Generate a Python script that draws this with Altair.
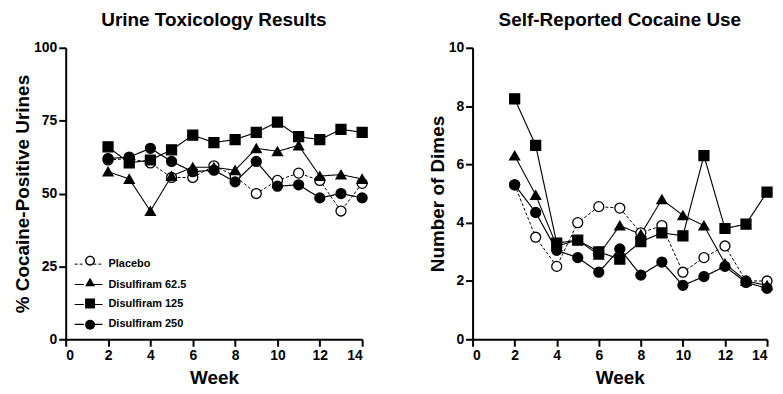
import altair as alt
import pandas as pd

weeks = list(range(2, 15))
series_names = ["Placebo", "Disulfiram 62.5", "Disulfiram 125", "Disulfiram 250"]

# Urine toxicology: % cocaine-positive urines
urine_placebo = [61.5, 62, 60.5, 55.5, 55.5, 59.5, 56, 50, 54.5, 57, 54.5, 44, 53.5]
urine_d62 = [57.5, 55, 44, 56, 59, 59, 58, 65.5, 64.5, 66.5, 56, 56.5, 55]
urine_d125 = [66, 60.5, 61.5, 65, 70, 67.5, 68.5, 71, 74.5, 69.5, 68.5, 72, 71]
urine_d250 = [62, 62.5, 65.5, 61, 57.5, 58, 54, 61, 52.5, 53, 48.5, 50, 48.5]

# Self-reported cocaine use: number of dimes
self_placebo = [5.3, 3.5, 2.5, 4.0, 4.55, 4.5, 3.65, 3.9, 2.3, 2.8, 3.2, 2.0, 2.0]
self_d62 = [6.3, 4.95, 3.2, 3.4, 2.9, 3.9, 3.6, 4.8, 4.25, 3.9, 2.6, 2.0, 1.85]
self_d125 = [8.25, 6.65, 3.3, 3.4, 3.0, 2.75, 3.35, 3.65, 3.55, 6.3, 3.8, 3.95, 5.05]
self_d250 = [5.3, 4.35, 3.05, 2.8, 2.3, 3.1, 2.2, 2.65, 1.85, 2.15, 2.5, 1.95, 1.75]

FONT = "Liberation Sans"
RING = ("M-1,0A1,1,0,1,0,1,0A1,1,0,1,0,-1,0Z "
        "M-0.72,0A0.72,0.72,0,1,1,0.72,0A0.72,0.72,0,1,1,-0.72,0Z")
GAP_LINE = "M-1,0L-0.34,0M0.34,0L1,0"


def make_df(lists):
    rows = []
    for idx, (name, vals) in enumerate(zip(series_names, lists)):
        for w, v in zip(weeks, vals):
            rows.append({"week": w, "value": v, "series": name, "idx": idx})
    return pd.DataFrame(rows)


df_urine = make_df([urine_placebo, urine_d62, urine_d125, urine_d250])
df_self = make_df([self_placebo, self_d62, self_d125, self_d250])


def panel(df, title, ytitle, ymax, yvals, width, show_legend):
    x = alt.X("week:Q", title="Week", scale=alt.Scale(domain=[0, 14], nice=False),
              axis=alt.Axis(values=list(range(0, 15, 2)), grid=False))
    y = alt.Y("value:Q", title=ytitle, scale=alt.Scale(domain=[0, ymax], nice=False),
              axis=alt.Axis(values=yvals, grid=False))
    if show_legend:
        legA = alt.Legend(orient="none", legendX=8, legendY=203, title=None,
                          symbolType=GAP_LINE, symbolSize=784, symbolStrokeColor="black",
                          labelFont=FONT, labelFontWeight="bold", labelFontSize=11,
                          labelColor="black", padding=0, rowPadding=-0.6, labelOffset=5)
    else:
        legA = None
    lines = alt.Chart(df).mark_line(color="black").encode(
        x=x, y=y,
        strokeDash=alt.StrokeDash("series:N", scale=alt.Scale(domain=series_names,
                                  range=[[3, 2], [1, 0], [1, 0], [1, 0]]), legend=legA),
        strokeWidth=alt.StrokeWidth("series:N", scale=alt.Scale(domain=series_names,
                                    range=[1, 1.2, 1.2, 2.6]), legend=legA),
        detail="series:N",
    )
    points = alt.Chart(df).mark_point(filled=True, stroke="black", strokeWidth=1.3, opacity=1, size=100).encode(
        x=x, y=y,
        shape=alt.Shape("idx:O", scale=alt.Scale(range=["circle", "triangle-up", "square", "circle"]), legend=None),
        fill=alt.Fill("idx:O", scale=alt.Scale(range=["white", "black", "black", "black"]), legend=None),
    )
    layers = [lines, points]
    if show_legend:
        legB = alt.Legend(orient="none", legendX=18.5, legendY=208, title=None,
                          symbolOpacity=1, symbolFillColor="black", symbolSize=100,
                          labelFont=FONT, labelFontSize=11,
                          labelOpacity=0, labelExpr="''",
                          padding=0, rowPadding=5.5, labelOffset=5)
        legend_marks = alt.Chart(df).mark_point(filled=True, color="black", opacity=0, size=100).encode(
            x=x, y=y,
            shape=alt.Shape("idx:O", scale=alt.Scale(range=[RING, "triangle-up", "square", "circle"]), legend=legB),
        )
        layers.append(legend_marks)
    return alt.layer(*layers).resolve_scale(shape="independent").properties(
        width=width, height=293,
        title=alt.TitleParams(title, font=FONT, fontSize=19, fontWeight="bold", offset=11, anchor="middle"),
    )


left = panel(df_urine, "Urine Toxicology Results", "% Cocaine-Positive Urines", 100,
             [0, 25, 50, 75, 100], 298, True)
right = panel(df_self, "Self-Reported Cocaine Use", "Number of Dimes", 10,
              [0, 2, 4, 6, 8, 10], 296, False)

chart = alt.hconcat(left, right, spacing=58).resolve_scale(
    shape="independent", fill="independent", strokeDash="independent", strokeWidth="independent"
).resolve_legend(
    shape="independent", fill="independent", strokeDash="independent", strokeWidth="independent"
).properties(
    padding={"left": 5, "right": 0, "top": 2, "bottom": 0}
).configure_view(stroke=None).configure_axis(
    domainColor="black", domainWidth=2, tickColor="black", tickWidth=2, tickSize=7,
    labelFont=FONT, labelFontWeight="bold", labelFontSize=14, labelColor="black",
    titleFont=FONT, titleFontWeight="bold", titleFontSize=19, titleColor="black",
    labelPadding=2,
).configure_axisX(titlePadding=6).configure_axisY(titlePadding=1)

chart.save("out.html", embed_options={"renderer": "svg", "actions": False})
